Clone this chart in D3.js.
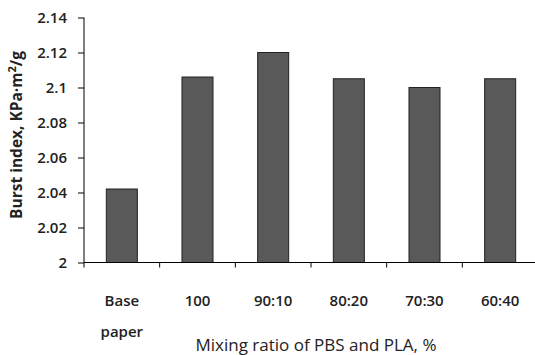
<html>
<head>
	<style>
		body { margin: 0; background: white; }
		text { font-family: "Open Sans", sans-serif; fill: #222; }
	</style>
	<script src="https://d3js.org/d3.v7.min.js"></script>
</head>
<body>
	<script>
		// Data
		var categories = ["Base paper", "100", "90:10", "80:20", "70:30", "60:40"];
		var burstIndex = [2.042, 2.106, 2.120, 2.105, 2.100, 2.105];
		var yTicks     = [2, 2.02, 2.04, 2.06, 2.08, 2.1, 2.12, 2.14];

		var width = 535, height = 355;
		var margin = { top: 17.5, right: -3, bottom: 92.5, left: 84 };

		var svg = d3.select("body").append("svg")
			.attr("width", width)
			.attr("height", height);

		var g = svg.append("g")
			.attr("transform", "translate(" + margin.left + "," + margin.top + ")");

		var w = width - margin.left - margin.right;
		var h = height - margin.top - margin.bottom;

		var x = d3.scaleBand().domain(categories).range([0, w]).paddingInner(0.59).paddingOuter(0.295);
		var xTick = d3.scaleLinear().domain([0, categories.length]).range([0, w]);
		var y = d3.scaleLinear().domain([2, 2.14]).range([h, 0]);

		// Bars
		g.selectAll("rect.bar").data(burstIndex).enter().append("rect")
			.attr("class", "bar")
			.attr("x", function(d, i) { return x(categories[i]); })
			.attr("width", x.bandwidth())
			.attr("y", function(d) { return y(d); })
			.attr("height", function(d) { return h - y(d); })
			.style("fill", "#595959")
			.style("stroke", "#222")
			.style("stroke-width", 1);

		// Y axis
		var yAxis = g.append("g")
			.call(d3.axisLeft(y).tickValues(yTicks).tickSize(6).tickPadding(11)
				.tickFormat(function(d) { return String(+d.toFixed(2)); }));
		yAxis.selectAll("text").style("font-size", "15px").style("font-weight", "600").style("fill", "#222");
		yAxis.select(".domain").attr("d", "M0," + h + "V0");

		// X axis line + ticks between categories
		var xAxis = g.append("g").attr("transform", "translate(0," + h + ")");
		xAxis.append("line").attr("x1", 0).attr("x2", w).attr("stroke", "black");
		xAxis.selectAll("line.tick").data(d3.range(categories.length + 1)).enter().append("line")
			.attr("class", "tick")
			.attr("x1", function(d) { return xTick(d); })
			.attr("x2", function(d) { return xTick(d); })
			.attr("y1", 0).attr("y2", 5)
			.attr("stroke", "black");

		// Category labels
		var lbl = xAxis.selectAll("text.cat").data(categories).enter().append("text")
			.attr("class", "cat")
			.attr("text-anchor", "middle")
			.attr("x", function(d) { return x(d) + x.bandwidth() / 2; })
			.style("font-size", "15px")
			.style("font-weight", "600");
		lbl.each(function(d) {
			var parts = d.split(" ");
			var t = d3.select(this);
			parts.forEach(function(p, i) {
				t.append("tspan")
					.attr("x", x(d) + x.bandwidth() / 2)
					.attr("y", 43.5 + i * 31)
					.text(p);
			});
		});

		// Axis titles
		svg.append("text")
			.attr("x", 316).attr("y", 351)
			.attr("text-anchor", "middle")
			.style("font-size", "17px")
			.text("Mixing ratio of PBS and PLA, %");

		var yt = svg.append("text")
			.attr("transform", "translate(22,135) rotate(-90)")
			.attr("text-anchor", "middle")
			.style("font-size", "15.5px")
			.style("font-weight", "bold");
		yt.append("tspan").text("Burst index,  KPa\u00b7m");
		yt.append("tspan").attr("dy", -6).style("font-size", "11px").text("2");
		yt.append("tspan").attr("dy", 6).text("/g");
	</script>
</body>
</html>
